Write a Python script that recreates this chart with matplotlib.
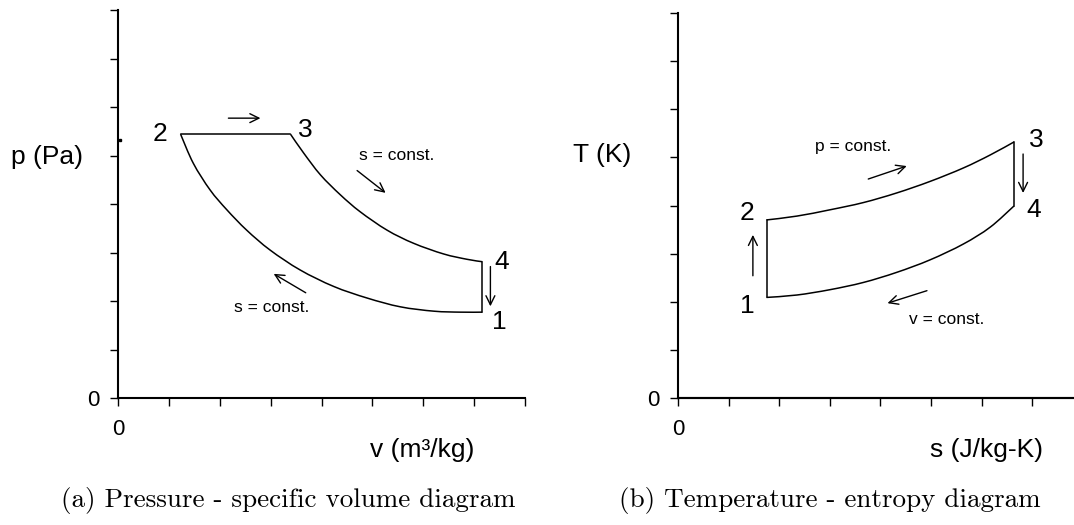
import matplotlib
matplotlib.use('Agg')
import matplotlib.pyplot as plt
from matplotlib.path import Path
from matplotlib.patches import PathPatch

# ---------------- data (in axis tick units) ----------------
# p-v diagram
pv_v_34 = [3.39, 3.65, 3.98, 4.37, 4.76, 5.29, 5.81, 6.40, 6.86, 7.16]
pv_p_34 = [5.44, 5.05, 4.60, 4.19, 3.84, 3.46, 3.19, 2.97, 2.86, 2.81]
pv_v_21 = [1.23, 1.48, 1.81, 2.14, 2.53, 2.99, 3.58, 4.24, 4.90, 5.55, 6.21, 6.73, 7.16]
pv_p_21 = [5.44, 4.84, 4.29, 3.88, 3.46, 3.05, 2.64, 2.30, 2.06, 1.88, 1.79, 1.77, 1.77]
pv_pts_v = [7.16, 1.23, 3.39, 7.16]   # states 1,2,3,4
pv_pts_p = [1.77, 5.44, 5.44, 2.81]

# T-s diagram
ts_s_23 = [1.75, 2.35, 3.00, 3.66, 4.32, 4.98, 5.64, 6.17, 6.64]
ts_T_23 = [3.70, 3.78, 3.91, 4.06, 4.26, 4.50, 4.78, 5.05, 5.32]
ts_s_14 = [1.75, 2.35, 3.00, 3.66, 4.32, 4.98, 5.64, 6.17, 6.64]
ts_T_14 = [2.09, 2.14, 2.25, 2.40, 2.61, 2.87, 3.20, 3.55, 3.99]

point_labels = ['1', '2', '3', '4']
ticks_x_left = list(range(9))
ticks_y = list(range(9))
ticks_x_right = list(range(8))

W, H = 1074, 525
fig = plt.figure(figsize=(W / 100, H / 100), dpi=100)
fig.patch.set_facecolor('white')

SANS = ['Liberation Sans', 'DejaVu Sans']
SERIF = ['cmr10', 'DejaVu Serif']


def fx(px):
    return px / W


def fy(py):
    return 1 - py / H


axL = fig.add_axes([118 / W, (H - 398) / H, (525 - 118) / W, (398 - 10) / H])
axR = fig.add_axes([678 / W, (H - 398) / H, (1074 - 678) / W, (398 - 13) / H])

for ax, xt in ((axL, ticks_x_left), (axR, ticks_x_right)):
    for sp in ('top', 'right'):
        ax.spines[sp].set_visible(False)
    for sp in ('left', 'bottom'):
        ax.spines[sp].set_linewidth(1.5)
        ax.spines[sp].set_color('black')
    ax.set_xticks(xt)
    ax.set_xticklabels(['0'] + [''] * (len(xt) - 1))
    ax.set_yticks(ticks_y)
    ax.set_yticklabels(['0'] + [''] * (len(ticks_y) - 1))
    ax.tick_params(axis='x', direction='out', length=6, width=1, pad=9,
                   labelsize=16, colors='black')
    ax.tick_params(axis='y', direction='out', length=6, width=1, pad=7,
                   labelsize=16, colors='black')
    for lab in ax.get_xticklabels() + ax.get_yticklabels():
        lab.set_family(SANS)
    ax.set_facecolor('none')

axL.set_xlim(0, 8)
axL.set_ylim(0, 8)
axR.set_xlim(0, (1074 - 678) / 50.6)
axR.set_ylim(0, 8)
# make sure the s-axis runs right to the figure edge
axR.plot([0, 1], [0, 0], transform=axR.transAxes, color='black', lw=1.5,
         clip_on=False, solid_capstyle='butt')
# small mark on the p-axis
axL.plot([0.03], [5.32], marker='s', ms=1.8, color='black', clip_on=False)

LW = 1.1


def smooth(ax, xs, ys):
    """Draw a smooth (Catmull-Rom as cubic Bezier) curve through the read points."""
    pts = list(zip(xs, ys))
    verts = [pts[0]]
    codes = [Path.MOVETO]
    n = len(pts)
    for i in range(n - 1):
        p0 = pts[i - 1] if i > 0 else pts[i]
        p1 = pts[i]
        p2 = pts[i + 1]
        p3 = pts[i + 2] if i + 2 < n else pts[i + 1]
        c1 = (p1[0] + (p2[0] - p0[0]) / 6, p1[1] + (p2[1] - p0[1]) / 6)
        c2 = (p2[0] - (p3[0] - p1[0]) / 6, p2[1] - (p3[1] - p1[1]) / 6)
        verts += [c1, c2, p2]
        codes += [Path.CURVE4] * 3
    ax.add_patch(PathPatch(Path(verts, codes), fill=False, edgecolor='black', lw=LW))


# ---- p-v curves
smooth(axL, pv_v_34, pv_p_34)
smooth(axL, pv_v_21, pv_p_21)
axL.plot([pv_pts_v[1], pv_pts_v[2]], [pv_pts_p[1], pv_pts_p[2]], color='black', lw=LW)
axL.plot([pv_pts_v[3], pv_pts_v[0]], [pv_pts_p[3], pv_pts_p[0]], color='black', lw=LW)

# ---- T-s curves
smooth(axR, ts_s_23, ts_T_23)
smooth(axR, ts_s_14, ts_T_14)
axR.plot([ts_s_14[0], ts_s_23[0]], [ts_T_14[0], ts_T_23[0]], color='black', lw=LW)
axR.plot([ts_s_23[-1], ts_s_14[-1]], [ts_T_23[-1], ts_T_14[-1]], color='black', lw=LW)

aprops = dict(arrowstyle='->,head_length=0.65,head_width=0.32', lw=1.0, color='black',
              shrinkA=0, shrinkB=0)


def arrow(ax, x0, y0, x1, y1):
    ax.annotate('', xy=(x1, y1), xytext=(x0, y0), arrowprops=aprops)


# p-v arrows
arrow(axL, 2.17, 5.77, 2.80, 5.77)
arrow(axL, 4.70, 4.69, 5.26, 4.23)
arrow(axL, 3.69, 2.17, 3.06, 2.56)
arrow(axL, 7.32, 2.71, 7.32, 1.89)
# T-s arrows
arrow(axR, 3.76, 4.55, 4.52, 4.82)
arrow(axR, 6.82, 5.07, 6.82, 4.26)
arrow(axR, 1.48, 2.54, 1.48, 3.39)
arrow(axR, 4.92, 2.23, 4.14, 1.97)

# ---- texts (pixel positions)
NUM = 19
fig.text(fx(160), fy(134), '2', family=SANS, fontsize=NUM, ha='center', va='center')
fig.text(fx(305), fy(130), '3', family=SANS, fontsize=NUM, ha='center', va='center')
fig.text(fx(502), fy(262), '4', family=SANS, fontsize=NUM, ha='center', va='center')
fig.text(fx(499), fy(322), '1', family=SANS, fontsize=NUM, ha='center', va='center')

fig.text(fx(747), fy(213), '2', family=SANS, fontsize=NUM, ha='center', va='center')
fig.text(fx(747), fy(306), '1', family=SANS, fontsize=NUM, ha='center', va='center')
fig.text(fx(1036), fy(140), '3', family=SANS, fontsize=NUM, ha='center', va='center')
fig.text(fx(1034), fy(210), '4', family=SANS, fontsize=NUM, ha='center', va='center')

SM = 12.5
fig.text(fx(397), fy(155), 's = const.', family=SANS, fontsize=SM, ha='center', va='center')
fig.text(fx(272), fy(307), 's = const.', family=SANS, fontsize=SM, ha='center', va='center')
fig.text(fx(853), fy(146), 'p = const.', family=SANS, fontsize=SM, ha='center', va='center')
fig.text(fx(947), fy(320), 'v = const.', family=SANS, fontsize=SM, ha='center', va='center')

LAB = 19
fig.text(fx(47), fy(157), 'p (Pa)', family=SANS, fontsize=LAB, ha='center', va='center')
fig.text(fx(422), fy(450), 'v (m³/kg)', family=SANS, fontsize=LAB, ha='center', va='center')
fig.text(fx(602), fy(155), 'T (K)', family=SANS, fontsize=LAB, ha='center', va='center')
fig.text(fx(987), fy(450), 's (J/kg-K)', family=SANS, fontsize=LAB, ha='center', va='center')

CAP = 19.5
fig.text(fx(288), fy(500), '(a) Pressure - specific volume diagram', family=SERIF,
         fontsize=CAP, ha='center', va='center')
fig.text(fx(830), fy(500), '(b) Temperature - entropy diagram', family=SERIF,
         fontsize=CAP, ha='center', va='center')

fig.savefig('out.png', dpi=100, facecolor='white')
